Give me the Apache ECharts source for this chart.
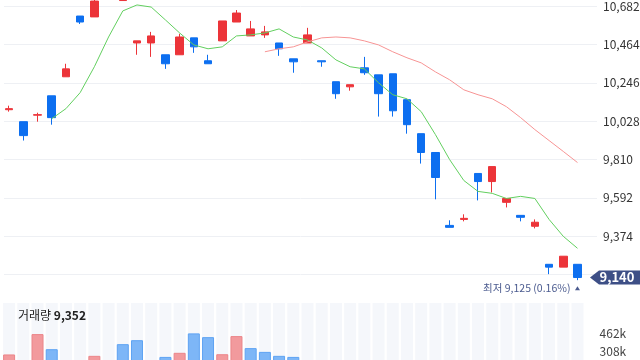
<!DOCTYPE html>
<html><head><meta charset="utf-8">
<script src="https://cdn.jsdelivr.net/npm/echarts@6/dist/echarts.min.js"></script>
<style>html,body{margin:0;padding:0;background:#fff}#c{width:640px;height:360px}</style>
</head><body><div id="c"></div>
<script>
const categories = ['D01','D02','D03','D04','D05','D06','D07','D08','D09','D10','D11','D12','D13','D14','D15','D16','D17','D18','D19','D20','D21','D22','D23','D24','D25','D26','D27','D28','D29','D30','D31','D32','D33','D34','D35','D36','D37','D38','D39','D40','D41'];
const opens  = [10093,10025,10062,10172,10280,10625,10620,10740,10713,10472,10472,10405,10405,10501,10371,10484,10591,10512,10518,10472,10382,10472,10371,10252,10223,10331,10291,10297,10150,9957,9850,9436,9470,9731,9685,9567,9493,9431,9215,9199,9215];
const closes = [10099,9946,10065,10048,10325,10591,10710,10861,10789,10484,10512,10354,10506,10450,10354,10597,10642,10552,10535,10439,10365,10518,10365,10184,10235,10303,10184,10087,10008,9850,9708,9425,9476,9685,9770,9589,9482,9454,9199,9261,9140];
const lows   = [10082,9918,10025,10008,10280,10580,10620,10725,10713,10405,10393,10325,10405,10416,10354,10484,10591,10512,10501,10399,10303,10472,10337,10155,10201,10291,10054,10054,9957,9787,9584,9425,9459,9578,9623,9538,9459,9419,9159,9199,9125];
const highs  = [10116,10025,10076,10172,10354,10625,10716,10880,10820,10484,10535,10405,10524,10501,10405,10597,10659,10597,10569,10472,10382,10558,10371,10252,10235,10393,10291,10297,10150,9957,9850,9465,9499,9731,9770,9589,9493,9470,9215,9261,9215];
const ma5  = [null,null,null,10042,10099,10190,10337,10506,10654,10688,10676,10603,10529,10461,10439,10450,10512,10518,10529,10552,10506,10489,10444,10376,10337,10325,10246,10178,10155,10082,9952,9810,9691,9629,9618,9589,9601,9589,9470,9374,9306];
const ma20 = [null,null,null,null,null,null,null,null,null,null,null,null,null,null,null,null,null,null,10422,10439,10450,10478,10501,10506,10501,10484,10461,10422,10388,10359,10308,10263,10206,10178,10155,10110,10048,9980,9918,9856,9793];
const volumes = [280000,205000,454000,325000,200000,180000,268000,190000,368000,402000,210000,259000,294000,460000,428000,282000,437000,334000,302000,268000,259000,190000,170000,210000,150000,160000,200000,205000,195000,200000,210000,205000,140000,190000,210000,160000,130000,120000,200000,170000,9352];
const volUp = [1,0,1,0,1,1,1,1,0,0,1,0,1,0,0,1,1,0,0,0,0,1,0,0,1,1,0,0,0,0,0,0,1,1,1,0,0,0,0,1,0];
const priceTicks = [9156,9374,9592,9810,10028,10246,10464,10682];
const volTickLabels = [308000,462000];

const FONT = "'Noto Sans CJK KR','Noto Sans',sans-serif";
const RED = '#ec3439', BLUE = '#0d6ff0';
const fmt = v => Number(v).toLocaleString('en-US');
const pMin = priceTicks[0], pMax = priceTicks[priceTicks.length-1], pStep = priceTicks[1]-priceTicks[0];

const candleData = opens.map((o,i)=>[o, closes[i], lows[i], highs[i]]);
const volData = volumes.map((v,i)=>({value:v, itemStyle:{color: volUp[i] ? '#f29a9d' : '#7db6f7', borderColor: volUp[i] ? '#ec8589' : '#5ea3f3', borderWidth:1}}));

const chart = echarts.init(document.getElementById('c'));
chart.setOption({
  animation:false,
  textStyle:{fontFamily:FONT},
  title:{text:'거래량 {b|'+fmt(volumes[volumes.length-1])+'}', left:18, top:309, padding:0,
    textStyle:{fontSize:12, fontWeight:'normal', color:'#222', fontFamily:FONT,
      rich:{b:{fontSize:12, fontWeight:'bold', color:'#222', fontFamily:FONT}}}},
  grid:[
    {left:4, right:43, top:6, height:268.7, outerBoundsMode:'none'},
    {left:2, width:582.6, top:6, height:268.7, outerBoundsMode:'none'},
    {left:2, width:582.6, top:303, height:84.2, outerBoundsMode:'none'}
  ],
  xAxis:[
    {gridIndex:0, type:'value', show:false, min:0, max:1},
    {gridIndex:1, type:'category', data:categories, show:false},
    {gridIndex:2, type:'category', data:categories, show:false}
  ],
  yAxis:[
    {gridIndex:0, type:'value', position:'right', min:pMin, max:pMax, interval:pStep,
      axisLine:{show:false}, axisTick:{show:false},
      splitLine:{lineStyle:{color:'#eef0f4', width:1}},
      axisLabel:{color:'#333', fontSize:12, margin:6, showMinLabel:false, formatter:v=>fmt(v)}},
    {gridIndex:1, type:'value', min:pMin, max:pMax, show:false},
    {gridIndex:2, type:'value', position:'right', min:0, max:720000, interval:154000,
      axisLine:{show:false}, axisTick:{show:false}, splitLine:{show:false},
      axisLabel:{color:'#444', fontSize:12, margin:15, showMaxLabel:false,
        formatter:v=> volTickLabels.includes(v) ? (v/1000)+'k' : ''}}
  ],
  series:[
    {type:'candlestick', xAxisIndex:1, yAxisIndex:1, data:candleData, barWidth:8, clip:false,
      itemStyle:{color:RED, color0:BLUE, borderColor:RED, borderColor0:BLUE, borderWidth:1}},
    {type:'line', xAxisIndex:1, yAxisIndex:1, data:ma5, symbol:'none', clip:false,
      lineStyle:{color:'#62cf5f', width:1}, z:3},
    {type:'line', xAxisIndex:1, yAxisIndex:1, data:ma20, symbol:'none', clip:false,
      lineStyle:{color:'#f79494', width:1}, z:3},
    {type:'bar', xAxisIndex:2, yAxisIndex:2, data:volData, barWidth:12,
      showBackground:true, backgroundStyle:{color:'#f5f7fb'}}
  ]
});

const last = closes.length-1;
const yLast = chart.convertToPixel({yAxisIndex:1}, closes[last]);
let lowIdx = 0;
lows.forEach((v,i)=>{ if (v < lows[lowIdx]) lowIdx = i; });
const lp = chart.convertToPixel({xAxisIndex:1, yAxisIndex:1}, [lowIdx, lows[lowIdx]]);
const pct = ((closes[last]-lows[lowIdx])/lows[lowIdx]*100).toFixed(2);
const badgeColor = '#3d4f86';
chart.setOption({graphic:[
  {type:'polygon', z:100, shape:{points:[[590,yLast],[599,yLast-7],[640,yLast-7],[640,yLast+7],[599,yLast+7]]}, style:{fill:badgeColor}},
  {type:'text', z:101, style:{text:fmt(closes[last]), x:617, y:yLast, textAlign:'center', textVerticalAlign:'middle', fill:'#fff', font:'bold 13px '+FONT}},
  {type:'text', z:101, style:{text:'최저 '+fmt(lows[lowIdx])+' ('+pct+'%)', x:lp[0]-7, y:lp[1]+8, textAlign:'right', textVerticalAlign:'middle', fill:'#4b5b8f', font:'10.5px '+FONT}},
  {type:'polygon', z:101, shape:{points:[[lp[0]-2.5,lp[1]+10],[lp[0]+2.5,lp[1]+10],[lp[0],lp[1]+6]]}, style:{fill:'#4b5b8f'}}
]});
</script></body></html>
